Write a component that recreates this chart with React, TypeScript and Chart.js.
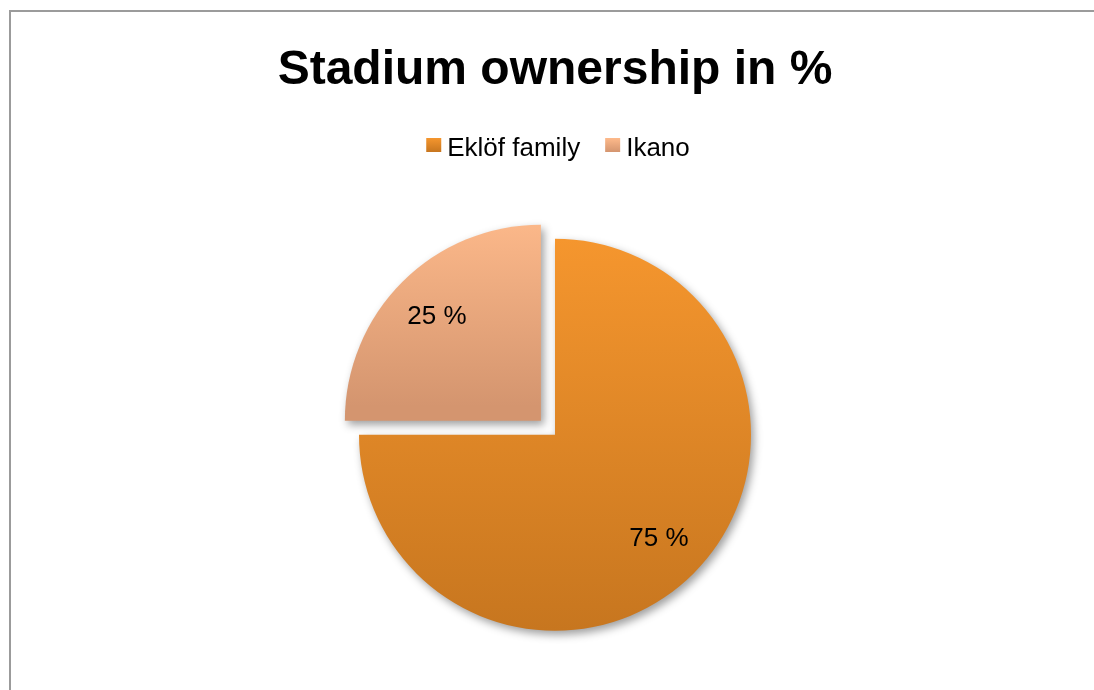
import { useEffect, useRef } from "react";
import { Chart, registerables } from "chart.js";

Chart.register(...registerables);

// ---- data ----
const TITLE = "Stadium ownership in %";
const owners = ["Eklöf family", "Ikano"];
const shares = [75, 25];
// Chart.js moves an arc outward by offset / 4 pixels
const explode = [0, 80];
const topColors = ["#F5962E", "#FEBA8B"];
const bottomColors = ["#C7761F", "#D4956F"];

const FONT = '"Liberation Sans", Arial, Helvetica, sans-serif';
const RADIUS = 196;
const WIDTH = 1094;
const HEIGHT = 690;

// vertical extent of one (possibly exploded) slice, used for its gradient
function sliceExtent(area: any, index: number) {
  const cx = (area.left + area.right) / 2;
  const cy = (area.top + area.bottom) / 2;
  const total = shares.reduce((a, b) => a + b, 0);
  let start = -Math.PI / 2;
  for (let i = 0; i < index; i++) start += (shares[i] / total) * Math.PI * 2;
  const end = start + (shares[index] / total) * Math.PI * 2;
  const mid = (start + end) / 2;
  const shift = explode[index] / 4;
  const ox = cx + Math.cos(mid) * shift;
  const oy = cy + Math.sin(mid) * shift;
  let minY = oy;
  let maxY = oy;
  const steps = 120;
  for (let k = 0; k <= steps; k++) {
    const a = start + ((end - start) * k) / steps;
    const y = oy + Math.sin(a) * RADIUS;
    minY = Math.min(minY, y);
    maxY = Math.max(maxY, y);
  }
  return { minY, maxY, ox };
}

function sliceFill(chart: any, index: number) {
  const area = chart.chartArea;
  if (!area) return topColors[index];
  const { minY, maxY } = sliceExtent(area, index);
  const g = chart.ctx.createLinearGradient(0, minY, 0, maxY);
  g.addColorStop(0, topColors[index]);
  g.addColorStop(1, bottomColors[index]);
  return g;
}

// white background and the grey frame line on the left and top
const framePlugin = {
  id: "frame",
  beforeDraw(chart: any) {
    const c = chart.ctx;
    c.save();
    c.fillStyle = "#ffffff";
    c.fillRect(0, 0, chart.width, chart.height);
    c.fillStyle = "#9b9b9b";
    c.fillRect(9, 10, 2, chart.height - 10);
    c.fillRect(9, 10, chart.width - 9, 2);
    c.restore();
  },
};

// soft drop shadow under the slices
const shadowPlugin = {
  id: "sliceShadow",
  beforeDatasetsDraw(chart: any) {
    const c = chart.ctx;
    c.save();
    c.shadowColor = "rgba(0,0,0,0.38)";
    c.shadowBlur = 8;
    c.shadowOffsetX = 3;
    c.shadowOffsetY = 4;
  },
  afterDatasetsDraw(chart: any) {
    chart.ctx.restore();
  },
};

// percentage labels inside the slices and the legend row under the title
const labelsPlugin = {
  id: "labelsAndLegend",
  afterDraw(chart: any) {
    const c = chart.ctx;
    const meta = chart.getDatasetMeta(0);
    c.save();
    c.font = `26px ${FONT}`;
    c.fillStyle = "#000000";
    c.textAlign = "center";
    c.textBaseline = "middle";
    meta.data.forEach((arc: any, i: number) => {
      const p = arc.getProps(["x", "y", "startAngle", "endAngle", "outerRadius"], true);
      const mid = (p.startAngle + p.endAngle) / 2;
      const d = explode[i] / 4 + p.outerRadius * 0.75;
      c.fillText(`${shares[i]} %`, p.x + Math.cos(mid) * d, p.y + Math.sin(mid) * d);
    });

    // legend
    const area = chart.chartArea;
    const cx = (area.left + area.right) / 2 + 3;
    const boxW = 15;
    const boxH = 14;
    const gap = 6;
    const itemGap = 25;
    c.textAlign = "left";
    c.textBaseline = "alphabetic";
    const widths = owners.map((t) => c.measureText(t).width);
    const total =
      widths.reduce((s, w) => s + boxW + gap + w, 0) + itemGap * (owners.length - 1);
    let x = cx - total / 2;
    const boxTop = 138;
    owners.forEach((name, i) => {
      const g = c.createLinearGradient(0, boxTop, 0, boxTop + boxH);
      g.addColorStop(0, topColors[i]);
      g.addColorStop(1, bottomColors[i]);
      c.fillStyle = g;
      c.fillRect(x, boxTop, boxW, boxH);
      x += boxW + gap;
      c.fillStyle = "#000000";
      c.fillText(name, x, 156);
      x += widths[i] + itemGap;
    });
    c.restore();
  },
};

export default function App() {
  const ref = useRef<HTMLCanvasElement | null>(null);

  useEffect(() => {
    if (!ref.current) return;
    const chart = new Chart(ref.current, {
      type: "pie",
      data: {
        labels: owners,
        datasets: [
          {
            data: shares,
            offset: explode,
            radius: RADIUS,
            borderWidth: 0,
            backgroundColor: (ctx: any) => sliceFill(ctx.chart, ctx.dataIndex),
          },
        ],
      },
      options: {
        responsive: false,
        animation: false,
        layout: { padding: { left: 16, right: 0, top: 0, bottom: 0 } },
        plugins: {
          legend: { display: false },
          tooltip: { enabled: false },
          title: {
            display: true,
            text: TITLE,
            color: "#000000",
            font: { family: FONT, size: 48, weight: "bold" },
            padding: { top: 42, bottom: 80 },
          },
        },
      },
      plugins: [framePlugin, shadowPlugin, labelsPlugin],
    });
    return () => chart.destroy();
  }, []);

  return (
    <div style={{ position: "fixed", left: 0, top: 0, width: WIDTH, height: HEIGHT, background: "#fff" }}>
      <canvas ref={ref} width={WIDTH} height={HEIGHT} style={{ display: "block" }} />
    </div>
  );
}
